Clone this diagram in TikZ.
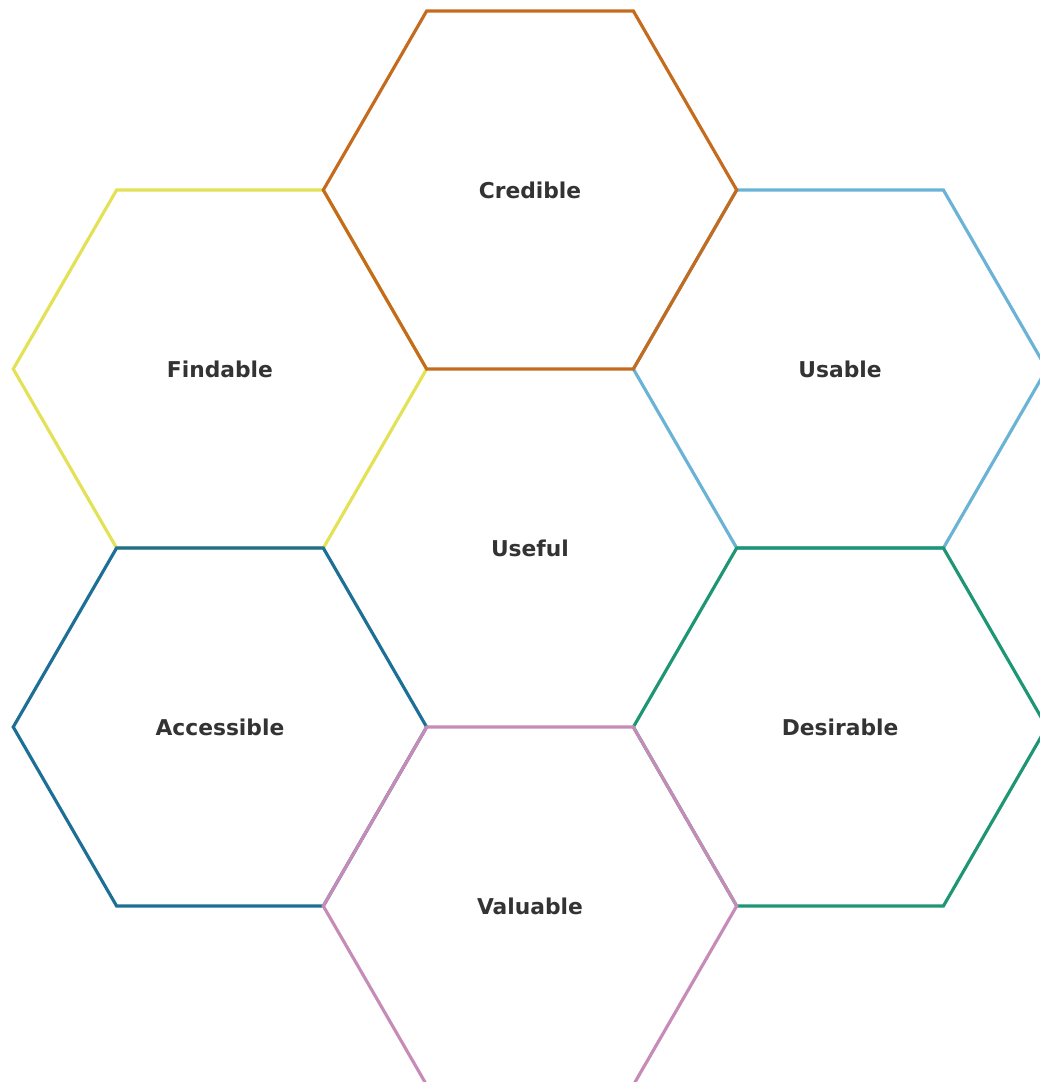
\documentclass[tikz,border=0pt]{standalone}
\usepackage{fontspec}
\setmainfont{DejaVu Sans}
\usepackage{tikz}
\usetikzlibrary{shapes.geometric}

\definecolor{credcol}{HTML}{C46B1E}
\definecolor{findcol}{HTML}{E3E155}
\definecolor{usecol}{HTML}{6BB3D6}
\definecolor{acccol}{HTML}{1D6F96}
\definecolor{descol}{HTML}{1E9673}
\definecolor{valcol}{HTML}{C78BB8}
\definecolor{labelcol}{HTML}{333333}

\tikzset{
  hexcell/.style={regular polygon, regular polygon sides=6, minimum size=4.134cm,
    inner sep=0pt, line width=0.9pt, text=labelcol,
    font=\fontsize{6.2}{7}\selectfont\bfseries},
}

\begin{document}
\begin{tikzpicture}
            \useasboundingbox (0,0) rectangle (10.40,-10.82);
            % Centre cell, no border of its own
            \node[hexcell] (useful) at (5.30,-5.480) {Useful};
            % Outer ring
            \node[hexcell, draw=findcol] (findable) at (2.1995,-3.690) {Findable};
            \node[hexcell, draw=usecol] (usable) at (8.4005,-3.690) {Usable};
            \node[hexcell, draw=credcol] (credible) at (5.30,-1.900) {Credible};
            \node[hexcell, draw=acccol] (accessible) at (2.1995,-7.270) {Accessible};
            \node[hexcell, draw=descol] (desirable) at (8.4005,-7.270) {Desirable};
            \node[hexcell, draw=valcol] (valuable) at (5.30,-9.060) {Valuable};
        \end{tikzpicture}
\end{document}
